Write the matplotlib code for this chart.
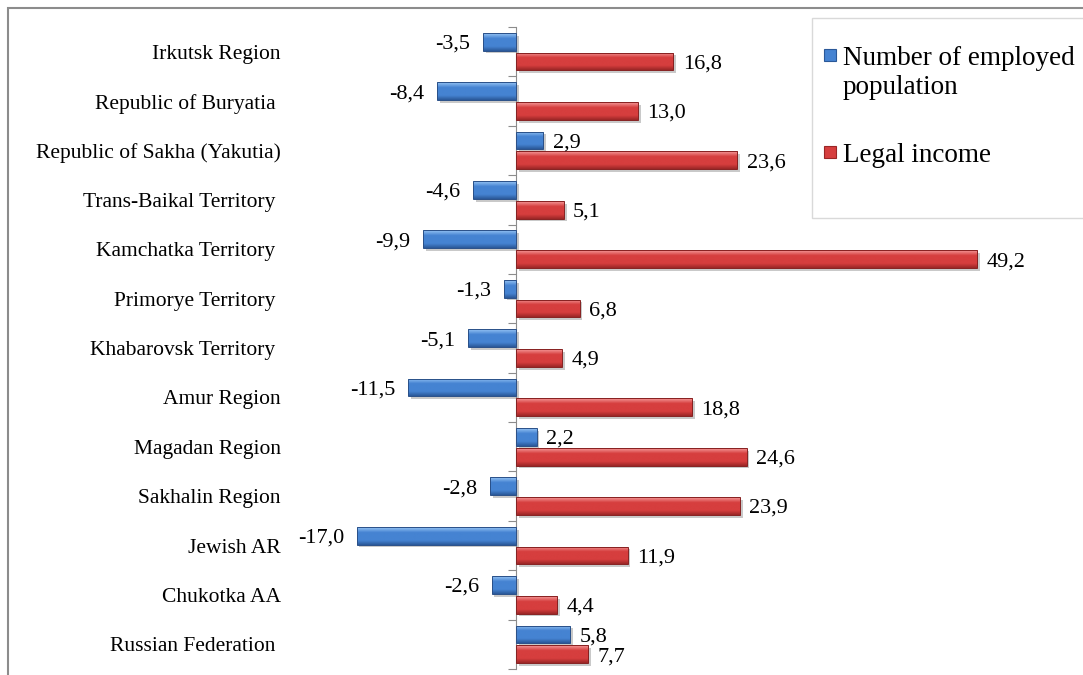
import matplotlib
matplotlib.use("Agg")
import matplotlib.pyplot as plt
import numpy as np
from matplotlib.patches import Rectangle
import matplotlib.patheffects as pe

categories = ["Irkutsk Region", "Republic of Buryatia ", "Republic of Sakha (Yakutia)",
              "Trans-Baikal Territory ", "Kamchatka Territory ", "Primorye Territory ",
              "Khabarovsk Territory ", "Amur Region", "Magadan Region", "Sakhalin Region",
              "Jewish AR", "Chukotka AA", "Russian Federation "]
employed = [-3.5, -8.4, 2.9, -4.6, -9.9, -1.3, -5.1, -11.5, 2.2, -2.8, -17.0, -2.6, 5.8]
income = [16.8, 13.0, 23.6, 5.1, 49.2, 6.8, 4.9, 18.8, 24.6, 23.9, 11.9, 4.4, 7.7]
series_names = ["Number of employed\npopulation", "Legal income"]

W, H = 1083, 675
plt.rcParams['font.family'] = ['Liberation Serif', 'DejaVu Serif']
fig = plt.figure(figsize=(W / 100, H / 100), dpi=100)

# outer frame
fig.patches.append(Rectangle((8 / W, -0.1), 1.2, 1 - 8 / H + 0.1, transform=fig.transFigure,
                             fill=False, edgecolor='#8c8c8c', linewidth=1.5))

ax_l, ax_r = 300, 1000
ax_t, ax_b = 27, 669
ax = fig.add_axes([ax_l / W, 1 - ax_b / H, (ax_r - ax_l) / W, (ax_b - ax_t) / H])
ax.patch.set_alpha(0)
px_per_unit = 9.37
xlim = ((ax_l - 516) / px_per_unit, (ax_r - 516) / px_per_unit)
n = len(categories)

y = np.arange(n)
h = 0.36
off = 0.2

blue_c = ('#96C4F4', '#4583D2', '#2A5898')
red_c = ('#F59A9A', '#D63E3E', '#9A2626')

def gradient_bars(bars, cols):
    c_top, c_mid, c_bot = cols
    cmap = matplotlib.colors.LinearSegmentedColormap.from_list(
        "g", [(0, c_top), (0.3, c_mid), (0.75, c_mid), (1, c_bot)])
    grad = np.linspace(0, 1, 64).reshape(-1, 1)
    for b in bars:
        x0, y0 = b.get_x(), b.get_y()
        w, hh = b.get_width(), b.get_height()
        im = ax.imshow(grad, cmap=cmap, aspect='auto', extent=(x0, x0 + w, y0 + hh, y0),
                       zorder=2.5, interpolation='bilinear')
        im.set_clip_path(b)

shadow = [pe.SimplePatchShadow(offset=(2, -2), shadow_rgbFace='#666666', alpha=0.35), pe.Normal()]
b1 = ax.barh(y - off, employed, height=h, color=blue_c[1], linewidth=0, zorder=2, path_effects=shadow)
b2 = ax.barh(y + off, income, height=h, color=red_c[1], linewidth=0, zorder=2, path_effects=shadow)
gradient_bars(b1, blue_c)
gradient_bars(b2, red_c)
ax.barh(y - off, employed, height=h, facecolor='none', edgecolor='#2A5088', linewidth=0.7, zorder=3)
ax.barh(y + off, income, height=h, facecolor='none', edgecolor='#862020', linewidth=0.7, zorder=3)

ax.set_xlim(*xlim)
ax.set_ylim(n - 0.5, -0.5)

fs_val = 16
fs_cat = 15.5
def fmt(v):
    return f"{v:.1f}".replace('.', ',')

for yi, v in zip(y - off, employed):
    if v < 0:
        ax.text(v - 1.35, yi, fmt(v), ha='right', va='center_baseline', fontsize=fs_val)
    else:
        ax.text(v + 1.0, yi, fmt(v), ha='left', va='center_baseline', fontsize=fs_val)
for yi, v in zip(y + off, income):
    ax.text(v + 1.0, yi, fmt(v), ha='left', va='center_baseline', fontsize=fs_val)

for yi, c in zip(y, categories):
    ax.text((281 - ax_l) / (ax_r - ax_l), yi, c, transform=ax.get_yaxis_transform(),
            ha='right', va='center_baseline', fontsize=fs_cat)

for s in ['top', 'right', 'bottom']:
    ax.spines[s].set_visible(False)
ax.spines['left'].set_position(('data', 0))
ax.spines['left'].set_color('#8c8c8c')
ax.set_xticks([])
ax.set_yticks(np.arange(n + 1) - 0.5)
ax.set_yticklabels([])
ax.tick_params(axis='y', length=6, color='#8c8c8c', direction='out')

# legend (drawn manually to match layout)
def fx(px):
    return px / W
def fy(py):
    return 1 - py / H

fig.patches.append(Rectangle((fx(812), fy(218)), 1.2, (218 - 18) / H, transform=fig.transFigure,
                             facecolor='white', edgecolor='#d9d9d9', linewidth=1.0, zorder=5))
leg_y = [55, 152]
text_y = [73, 155]
for cols, ly, ty, name in zip([blue_c, red_c], leg_y, text_y, series_names):
    fig.patches.append(Rectangle((fx(824), fy(ly + 6)), 12 / W, 12 / H, transform=fig.transFigure,
                                 facecolor=cols[1], edgecolor=cols[2], linewidth=0.8, zorder=6))
    fig.text(fx(843), fy(ty), name, ha='left', va='center', fontsize=19.5,
             linespacing=1.25, zorder=7)

fig.savefig("out.png", dpi=100)
